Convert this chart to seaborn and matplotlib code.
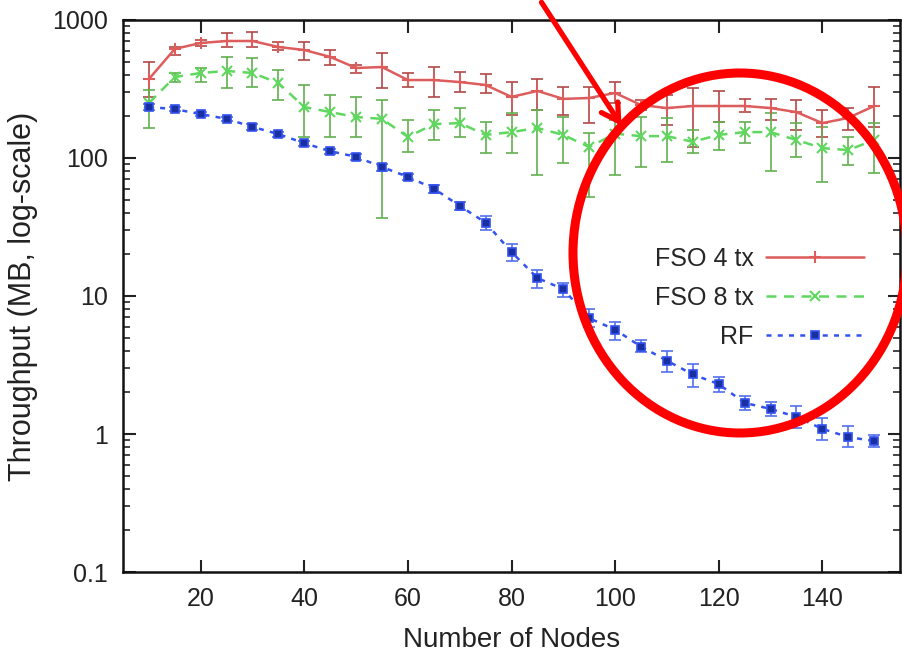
import numpy as np
import pandas as pd
import matplotlib
matplotlib.use('Agg')
import matplotlib.pyplot as plt
import seaborn as sns
from matplotlib.patches import Ellipse, FancyArrowPatch

# Data (throughput in MB, log scale)
nodes = [10, 15, 20, 25, 30, 35, 40, 45, 50, 55, 60, 65, 70, 75, 80,
         85, 90, 95, 100, 105, 110, 115, 120, 125, 130, 135, 140, 145, 150]

fso4 = [373, 617, 681, 704, 704, 637, 606, 540, 449, 456, 367, 367, 355, 338, 277,
        306, 268, 272, 296, 242, 230, 238, 238, 238, 230, 215, 179, 195, 238]
fso4_hi = [497, 637, 716, 805, 819, 693, 693, 606, 472, 577, 413, 456, 420, 406, 355,
           373, 327, 327, 355, 263, 286, 321, 305, 268, 268, 263, 223, 230, 327]
fso4_lo = [277, 557, 648, 637, 637, 606, 513, 472, 413, 321, 327, 277, 300, 296, 205,
           223, 205, 179, 250, 223, 173, 120, 183, 215, 188, 160, 142, 160, 168]

fso8 = [250, 386, 413, 427, 413, 349, 234, 215, 198, 192, 142, 176, 179, 147, 154,
        165, 147, 120, 150, 144, 144, 131, 147, 154, 154, 135, 118, 114, 135]
fso8_hi = [311, 413, 449, 540, 530, 434, 338, 286, 277, 263, 188, 223, 230, 183, 212,
           223, 198, 152, 188, 198, 195, 160, 183, 183, 212, 179, 168, 142, 179]
fso8_lo = [165, 355, 355, 321, 327, 263, 142, 142, 142, 37, 110, 135, 142, 109, 109,
           75, 92, 52, 75, 86, 94, 109, 114, 128, 80, 102, 67, 89, 78]

rf = [234, 226, 208, 192, 168, 149, 128, 112, 102, 86, 73, 60, 45, 34, 20.8,
      13.5, 11.2, 6.9, 5.7, 4.3, 3.4, 2.7, 2.3, 1.68, 1.52, 1.33, 1.09, 0.95, 0.89]
rf_hi = [245, 235, 215, 198, 175, 155, 133, 117, 107, 90, 77, 64, 48, 38, 24,
         15.5, 12.5, 8, 6.5, 4.8, 4, 3.2, 2.6, 1.9, 1.7, 1.6, 1.3, 1.15, 0.98]
rf_lo = [222, 218, 200, 185, 160, 143, 122, 107, 97, 80, 69, 56, 42, 30, 18,
         11.5, 9.8, 6, 4.8, 3.9, 2.8, 2.2, 2.0, 1.5, 1.35, 1.1, 0.9, 0.8, 0.8]

series_names = ['FSO 4 tx', 'FSO 8 tx', 'RF']
x_ticks = [20, 40, 60, 80, 100, 120, 140]
y_ticks = [0.1, 1, 10, 100, 1000]
y_tick_labels = ['0.1', '1', '10', '100', '1000']

sns.set_style('ticks')
plt.rcParams['font.family'] = ['Liberation Sans', 'DejaVu Sans']

fig = plt.figure(figsize=(9.03, 6.59), dpi=100)
ax = fig.add_axes([0.1362, 0.132, 0.8605, 0.8377])

styles = [
    dict(color='#dd5c5c', ecolor='#b04848', ls='-', marker='+', ms=9, mew=1.5),
    dict(color='#5fd85f', ecolor='#62b050', ls=(0, (4, 3)), marker='x', ms=7, mew=1.5),
    dict(color='#3352ee', ecolor='#5570ee', ls=(0, (2, 2.5)), marker='s', ms=6, mew=1.2),
]
values = [(fso4, fso4_lo, fso4_hi), (fso8, fso8_lo, fso8_hi), (rf, rf_lo, rf_hi)]

handles = []
for name, (y, lo, hi), st in zip(series_names, values, styles):
    df = pd.DataFrame({'nodes': nodes, 'tp': y})
    y = np.array(y)
    yerr = [y - np.array(lo), np.array(hi) - y]
    ax.errorbar(nodes, y, yerr=yerr, fmt='none', ecolor=st['ecolor'],
                elinewidth=1.2, capsize=4, capthick=1.2, zorder=2)
    sns.lineplot(data=df, x='nodes', y='tp', ax=ax, color=st['color'],
                 linestyle=st['ls'], linewidth=1.8, zorder=3)
    mfc = '#1a2fa0' if name == 'RF' else st['color']
    ax.plot(nodes, y, ls='none', marker=st['marker'], ms=st['ms'], mew=st['mew'],
            color=st['color'], mfc=mfc, mec=st['color'], zorder=4)
    h, = ax.plot([], [], color=st['color'], ls=st['ls'], lw=1.8,
                 marker=st['marker'], ms=st['ms'], mew=st['mew'], mfc=mfc, mec=st['color'])
    handles.append(h)

ax.set_yscale('log')
ax.set_xlim(5, 155)
ax.set_ylim(0.1, 1000)
ax.set_xticks(x_ticks)
ax.set_xticklabels([str(t) for t in x_ticks])
ax.set_yticks(y_ticks)
ax.set_yticklabels(y_tick_labels)
ax.tick_params(axis='both', which='major', direction='in', length=9, width=1.5,
               top=True, right=True, labelsize=18, pad=11, colors='#222222')
ax.tick_params(axis='y', which='minor', direction='in', length=5, width=1.2,
               left=True, right=True)
ax.tick_params(axis='x', which='minor', bottom=False, top=False)
for sp in ax.spines.values():
    sp.set_linewidth(1.8)
    sp.set_color('#111111')

ax.set_xlabel('Number of Nodes', fontsize=20, labelpad=11, color='#222222')
ax.set_ylabel('Throughput (MB, log-scale)', fontsize=22, labelpad=10, color='#222222')

leg = ax.legend(handles, series_names, loc='center right', bbox_to_anchor=(0.982, 0.496),
                frameon=False, markerfirst=False, fontsize=18, handlelength=3.9,
                labelspacing=0.6, handletextpad=0.5)

# annotation: red circle and arrow
ell = Ellipse((740 / 903, 1 - 253 / 659), width=2 * 167 / 903, height=2 * 180 / 659,
              transform=fig.transFigure, fill=False, edgecolor='#ff0000', linewidth=6.5,
              zorder=10)
fig.patches.append(ell)
arr = FancyArrowPatch((540 / 903, 1.0), (623 / 903, 1 - 128 / 659),
                      transform=fig.transFigure, arrowstyle='->,head_length=12,head_width=7',
                      color='#ff0000', linewidth=3.8, zorder=10)
fig.patches.append(arr)

fig.savefig('out.png', dpi=100)
